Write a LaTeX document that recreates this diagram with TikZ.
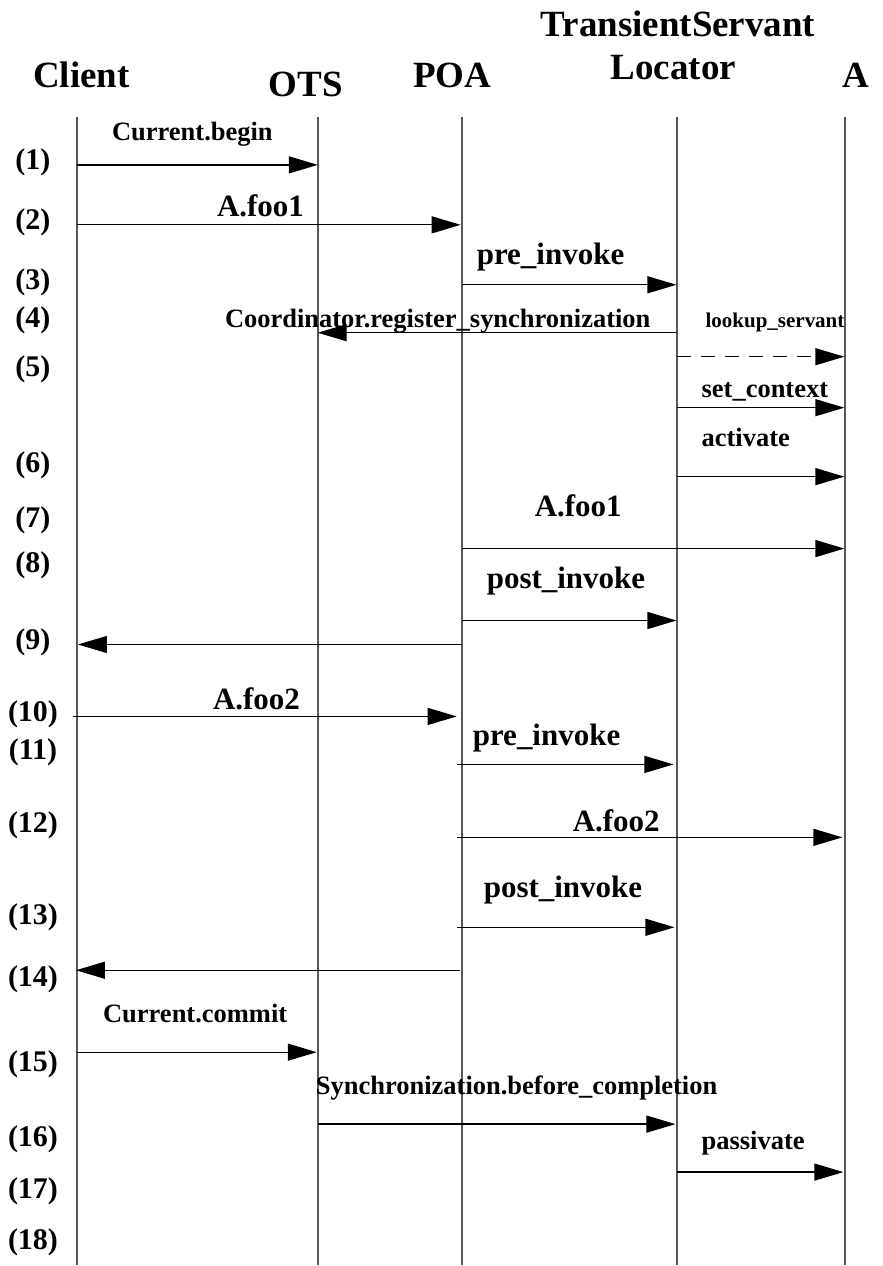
\documentclass[tikz,border=0pt]{standalone}
\usepackage{fontspec}
\setmainfont{Liberation Serif}
\usetikzlibrary{arrows.meta}

% one message: named start/end coordinates, then the arrow between them
\newcommand\sendmsg[5][]{%
  \coordinate (#2s) at (#3,#5);
  \coordinate (#2e) at (#4,#5);
  \draw[msg,#1] (#2s) -- (#2e);}

\begin{document}
\begin{tikzpicture}[x=1pt,y=-1pt,
  life/.style={draw=black!66, line width=2pt},
  msg/.style={draw=black, line width=1.3pt, -{Triangle[length=29pt,width=17pt]}},
  head/.style={font=\fontsize{37}{40}\selectfont\bfseries, inner sep=0pt, anchor=base},
  big/.style={font=\fontsize{31}{34}\selectfont\bfseries, inner sep=0pt, anchor=base west},
  mid/.style={font=\fontsize{26.5}{30}\selectfont\bfseries, inner sep=0pt, anchor=base west},
  small/.style={font=\fontsize{21}{24}\selectfont\bfseries, inner sep=0pt, anchor=base west},
  num/.style={font=\fontsize{30}{33}\selectfont\bfseries, inner sep=0pt, anchor=base},
]
\fill[white] (0,0) rectangle (883,1266);

% participants
\node[head] (hClient) at (81.5,88) {Client};
\node[head] (hOTS)    at (306,97)  {OTS};
\node[head] (hPOA)    at (452.5,88) {POA};
\node[head] (hTSL1)   at (678.5,37) {TransientServant};
\node[head] (hTSL2)   at (674,80)  {Locator};
\node[head] (hA)      at (857,88)  {A};

% lifelines
\foreach \n/\x in {cl/77.5, ots/318, poa/462, tsl/678, a/845.5}{
  \coordinate (\n T) at (\x,117);
  \coordinate (\n B) at (\x,1266);
  \draw[life] (\n T) -- (\n B);
}

% step numbers
\foreach \i/\y in {1/170,2/230,3/290,4/328,5/377,6/473,7/528,8/573,9/650,
                   10/722,11/760,12/833,13/925,14/987,15/1072,16/1147,17/1199,18/1250}{
  \node[num] (n\i) at (33,\y) {(\i)};
}

% messages
\sendmsg{m1}{77.5}{318}{165}
\sendmsg{m2}{77.5}{461}{225}
\sendmsg{m3}{462}{677}{285}
\sendmsg{m4}{678}{318}{333}
\sendmsg[dash pattern=on 14pt off 10pt]{m5}{678}{845}{357}
\sendmsg{m5b}{678}{845}{408}
\sendmsg{m6}{678}{845}{477}
\sendmsg{m8}{462}{845}{549}
\sendmsg{m8b}{462}{677}{621}
\sendmsg{m9}{462}{78}{645}
\sendmsg{m10}{73}{457}{717}
\sendmsg{m11}{457}{674}{765}
\sendmsg{m12}{457}{843}{838}
\sendmsg{m13}{457}{675}{928}
\sendmsg{m14}{460}{76}{971}
\sendmsg{m15}{77.5}{317}{1053}
\sendmsg{m16}{318}{676}{1125}
\sendmsg{m17}{678}{844}{1173}

% message labels
\node[mid]   (l1)  at (112,141)  {Current.begin};
\node[big]   (l2)  at (217,217)  {A.foo1};
\node[big]   (l3)  at (477,265)  {pre\_invoke};
\node[mid]   (l4)  at (225,328)  {Coordinator.register\_synchronization};
\node[small] (l5)  at (706,328)  {lookup\_servant};
\node[mid]   (l5b) at (702,398)  {set\_context};
\node[mid]   (l6)  at (702,447)  {activate};
\node[big]   (l8)  at (535,517)  {A.foo1};
\node[big]   (l8b) at (487,589)  {post\_invoke};
\node[big]   (l10) at (213,710)  {A.foo2};
\node[big]   (l11) at (473,746)  {pre\_invoke};
\node[big]   (l12) at (573,832)  {A.foo2};
\node[big]   (l13) at (484,898)  {post\_invoke};
\node[mid]   (l15) at (103,1023) {Current.commit};
\node[mid]   (l16) at (316,1095) {Synchronization.before\_completion};
\node[mid]   (l17) at (702,1150) {passivate};
\end{tikzpicture}
\end{document}
